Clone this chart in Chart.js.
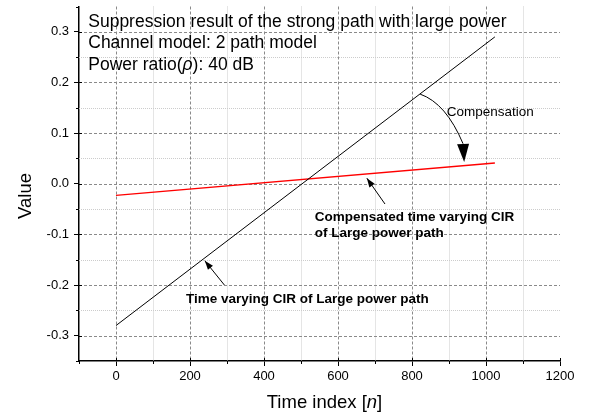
<!DOCTYPE html>
<html lang="en">
<head>
    <meta charset="UTF-8">
    <title>Suppression result of the strong path with large power</title>
    <script src="https://cdn.jsdelivr.net/npm/chart.js"></script>
    <style>
        body {
            margin: 0;
            background: #ffffff;
        }
        .chart-box {
            position: relative;
            width: 600px;
            height: 420px;
        }
    </style>
</head>
<body>
    <div class="chart-box">
        <canvas id="chart"></canvas>
    </div>

    <script>
        // Values
        const timeIndex = [0, 1024];
        const cirLarge = [-0.28, 0.29];          // black line
        const cirCompensated = [-0.023, 0.041];  // red line

        // Axis ranges / tick steps (minor step, labels every 2nd tick)
        const xRange = [-100, 1200];
        const yRange = [-0.35, 0.35];
        const xStep = 100;
        const yStep = 0.05;

        const FONT = '"Liberation Sans", Arial, sans-serif';

        const isMajorX = v => v % 200 === 0;
        const isMajorY = v => Math.round(v * 100) % 10 === 0;

        // writes text made of several parts with different fonts
        function richText(ctx, parts, x, y, align) {
            let total = 0;
            parts.forEach(p => { ctx.font = p.font; total += ctx.measureText(p.text).width; });
            let cx = align === 'center' ? x - total / 2 : x;
            ctx.textAlign = 'left';
            parts.forEach(p => {
                ctx.font = p.font;
                ctx.fillText(p.text, cx, y);
                cx += ctx.measureText(p.text).width;
            });
        }

        function arrowHead(ctx, tx, ty, fx, fy, len, half) {
            const ang = Math.atan2(ty - fy, tx - fx);
            const bx = tx - len * Math.cos(ang), by = ty - len * Math.sin(ang);
            ctx.beginPath();
            ctx.moveTo(tx, ty);
            ctx.lineTo(bx + half * Math.sin(ang), by - half * Math.cos(ang));
            ctx.lineTo(bx - half * Math.sin(ang), by + half * Math.cos(ang));
            ctx.closePath();
            ctx.fill();
        }

        function arrow(ctx, fx, fy, tx, ty) {
            ctx.beginPath();
            ctx.moveTo(fx, fy);
            ctx.lineTo(tx, ty);
            ctx.stroke();
            arrowHead(ctx, tx, ty, fx, fy, 9, 3.2);
        }

        // grid (dashed major, dotted minor), extra ticks, notes and arrows
        const decorations = {
            id: 'decorations',
            beforeDatasetsDraw(chart) {
                const {ctx, chartArea: a, scales: {x, y}} = chart;
                ctx.save();
                ctx.lineWidth = 1;
                x.ticks.forEach(t => {
                    if (t.value <= xRange[0] || t.value >= xRange[1]) return;
                    const px = Math.round(x.getPixelForValue(t.value)) + 0.5;
                    const major = isMajorX(t.value);
                    ctx.strokeStyle = major ? '#8a8a8a' : '#cccccc';
                    ctx.setLineDash(major ? [3, 2] : [1, 1]);
                    ctx.beginPath();
                    ctx.moveTo(px, a.top);
                    ctx.lineTo(px, a.bottom);
                    ctx.stroke();
                });
                y.ticks.forEach(t => {
                    if (t.value <= yRange[0] + 1e-6 || t.value >= yRange[1] - 1e-6) return;
                    const py = Math.round(y.getPixelForValue(t.value)) + 0.5;
                    const major = isMajorY(t.value);
                    ctx.strokeStyle = major ? '#8a8a8a' : '#cccccc';
                    ctx.setLineDash(major ? [3, 2] : [1, 1]);
                    ctx.beginPath();
                    ctx.moveTo(a.left, py);
                    ctx.lineTo(a.right, py);
                    ctx.stroke();
                });
                ctx.restore();
            },
            afterDraw(chart) {
                const {ctx, chartArea: a, scales: {x, y}} = chart;
                const X = v => x.getPixelForValue(v);
                const Y = v => y.getPixelForValue(v);
                ctx.save();

                // minor ticks outside, major ticks also poke a little inside
                ctx.strokeStyle = '#000';
                ctx.lineWidth = 1;
                x.ticks.forEach(t => {
                    const px = Math.round(X(t.value)) + 0.5;
                    ctx.beginPath();
                    if (isMajorX(t.value)) { ctx.moveTo(px, a.bottom - 3); ctx.lineTo(px, a.bottom); }
                    else { ctx.moveTo(px, a.bottom); ctx.lineTo(px, a.bottom + 3); }
                    ctx.stroke();
                });
                y.ticks.forEach(t => {
                    const py = Math.round(Y(t.value)) + 0.5;
                    ctx.beginPath();
                    if (isMajorY(t.value)) { ctx.moveTo(a.left, py); ctx.lineTo(a.left + 3, py); }
                    else { ctx.moveTo(a.left - 3, py); ctx.lineTo(a.left, py); }
                    ctx.stroke();
                });

                ctx.fillStyle = '#000';
                ctx.textBaseline = 'alphabetic';

                // header text
                const f = '17.5px ' + FONT, fi = 'italic 17.5px ' + FONT;
                richText(ctx, [{text: 'Suppression result of the strong path with large power', font: f}], X(-75), Y(0.31));
                richText(ctx, [{text: 'Channel model: 2 path model', font: f}], X(-75), Y(0.2675));
                richText(ctx, [
                    {text: 'Power ratio(', font: f},
                    {text: 'ρ', font: fi},
                    {text: '): 40 dB', font: f}
                ], X(-75), Y(0.2245));

                // notes
                richText(ctx, [{text: 'Compensation', font: '13.5px ' + FONT}], X(894), Y(0.134));
                const fb = 'bold 13.5px ' + FONT;
                richText(ctx, [{text: 'Compensated time varying CIR', font: fb}], X(537), Y(-0.073));
                richText(ctx, [{text: 'of Large power path', font: fb}], X(537), Y(-0.106));
                richText(ctx, [{text: 'Time varying CIR of Large power path', font: fb}], X(189), Y(-0.236));

                // straight arrows
                ctx.lineWidth = 1;
                arrow(ctx, X(727), Y(-0.040), X(678), Y(0.011));
                arrow(ctx, X(293), Y(-0.200), X(240), Y(-0.152));

                // curved "Compensation" arrow
                const sx = X(822), sy = Y(0.177);
                const cx = X(892), cy = Y(0.159);
                const ex = X(938), ey = Y(0.079);
                const tx = X(941), ty = Y(0.043);
                ctx.beginPath();
                ctx.moveTo(sx, sy);
                ctx.quadraticCurveTo(cx, cy, ex, ey);
                ctx.stroke();
                arrowHead(ctx, tx, ty, ex, ey, 18, 6);

                // axis titles
                const ft = '18.5px ' + FONT, fti = 'italic 18.5px ' + FONT;
                richText(ctx, [
                    {text: 'Time index [', font: ft},
                    {text: 'n', font: fti},
                    {text: ']', font: ft}
                ], (a.left + a.right) / 2 + 5, 408, 'center');
                ctx.translate(31, 196);
                ctx.rotate(-Math.PI / 2);
                richText(ctx, [{text: 'Value', font: ft}], 0, 0, 'center');

                ctx.restore();
            }
        };

        const toPoints = (xs, ys) => xs.map((v, i) => ({x: v, y: ys[i]}));

        const ctx = document.getElementById('chart').getContext('2d');
        const chart = new Chart(ctx, {
            type: 'line',
            data: {
                datasets: [
                    {
                        label: 'Time varying CIR of Large power path',
                        data: toPoints(timeIndex, cirLarge),
                        borderColor: '#000000',
                        borderWidth: 1,
                        pointRadius: 0,
                        tension: 0
                    },
                    {
                        label: 'Compensated time varying CIR of Large power path',
                        data: toPoints(timeIndex, cirCompensated),
                        borderColor: '#ff0000',
                        borderWidth: 1.3,
                        pointRadius: 0,
                        tension: 0
                    }
                ]
            },
            options: {
                responsive: true,
                maintainAspectRatio: false,
                animation: false,
                layout: {
                    padding: {top: 6.5, right: 40, left: 0, bottom: 0}
                },
                plugins: {
                    legend: {display: false},
                    tooltip: {enabled: false}
                },
                scales: {
                    x: {
                        type: 'linear',
                        min: xRange[0],
                        max: xRange[1],
                        afterFit: s => { s.height = 59; },
                        border: {color: '#000', width: 1.5},
                        grid: {
                            drawOnChartArea: false,
                            tickLength: 5,
                            tickColor: c => (c.tick && isMajorX(c.tick.value)) ? '#000' : 'rgba(0,0,0,0)'
                        },
                        ticks: {
                            stepSize: xStep,
                            autoSkip: false,
                            maxRotation: 0,
                            padding: 3,
                            color: '#000',
                            font: {family: FONT, size: 13},
                            callback: v => (v >= 0 && isMajorX(v)) ? String(v) : ''
                        }
                    },
                    y: {
                        type: 'linear',
                        min: yRange[0],
                        max: yRange[1],
                        afterFit: s => { s.width = 79; s.paddingTop = 0; s.paddingBottom = 0; },
                        border: {color: '#000', width: 1.5},
                        grid: {
                            drawOnChartArea: false,
                            tickLength: 5,
                            tickColor: c => (c.tick && isMajorY(c.tick.value)) ? '#000' : 'rgba(0,0,0,0)'
                        },
                        ticks: {
                            stepSize: yStep,
                            autoSkip: false,
                            padding: 5,
                            color: '#000',
                            font: {family: FONT, size: 13},
                            callback: v => {
                                const k = Math.round(v * 100);
                                return (k % 10 === 0 && Math.abs(k) < 35) ? (k / 100).toFixed(1) : '';
                            }
                        }
                    }
                }
            },
            plugins: [decorations]
        });
    </script>
</body>
</html>
